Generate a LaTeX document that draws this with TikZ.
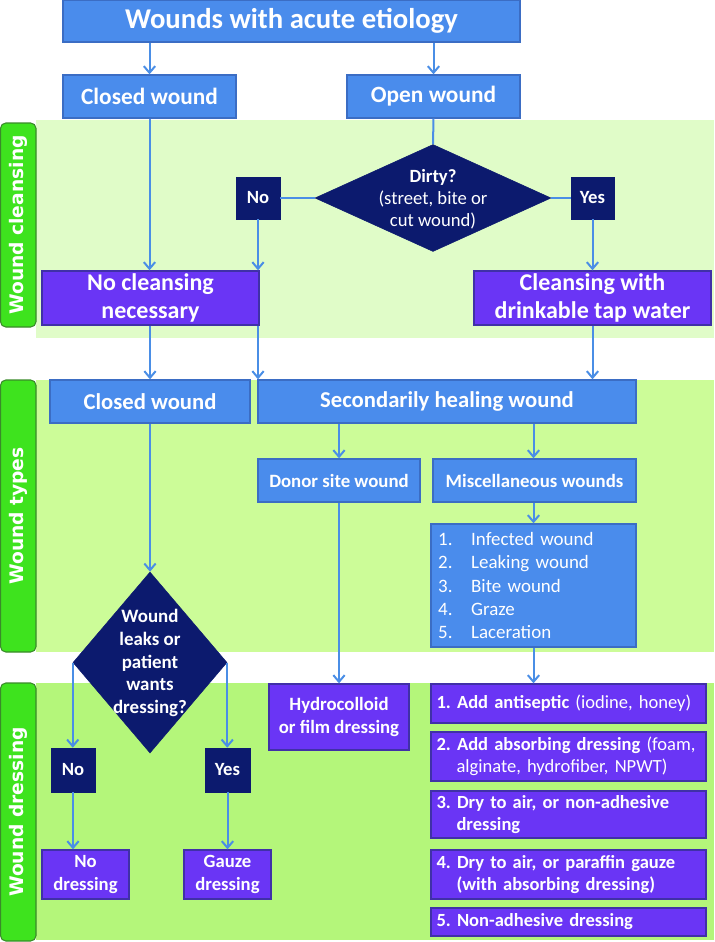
\documentclass[tikz,border=0pt]{standalone}
\usepackage{fontspec}
\setmainfont{Carlito}
\newfontfamily\tabfont{DejaVu Sans}
\usetikzlibrary{shapes.geometric,arrows.meta}
\frenchspacing
\definecolor{boxblue}{HTML}{4A8CEC}
\definecolor{boxblueline}{HTML}{3B6DC4}
\definecolor{boxpurple}{HTML}{6A35F5}
\definecolor{boxpurpleline}{HTML}{4030A8}
\definecolor{navy}{HTML}{0C1A6E}
\definecolor{arrowblue}{HTML}{4A8EE6}
\definecolor{bandA}{HTML}{E0FCC8}
\definecolor{bandB}{HTML}{CCFC98}
\definecolor{bandC}{HTML}{B4F67A}
\definecolor{tabgreen}{HTML}{3EE31E}
\definecolor{tabline}{HTML}{3A8A2A}
\tikzset{
  corners/.style args={#1/#2/#3/#4}{anchor=center, at={({(#1+#3)/2},{(#2+#4)/2})},
     minimum width={(#3-#1)*0.75pt}, minimum height={(#4-#2)*0.75pt}},
  bbox/.style={draw=boxblueline, fill=boxblue, line width=1pt, inner sep=0pt, text=white, align=center},
  pbox/.style={draw=boxpurpleline, fill=boxpurple, line width=1pt, inner sep=0pt, text=white, align=center},
  dbox/.style={draw=boxpurpleline, fill=boxpurple, line width=1pt, inner sep=0pt, text=white,
     text width=198pt, align=left, font=\bfseries\fontsize{13.9}{16.5}\selectfont},
  nbox/.style={fill=navy, draw=navy, inner sep=0pt, text=white, font=\bfseries\fontsize{14}{16}\selectfont},
  dia/.style={diamond, fill=navy, draw=navy, inner sep=0pt},
  diatext/.style={text=white, align=center, inner sep=0pt},
  conn/.style={draw=arrowblue, line width=1.5pt},
  arr/.style={conn, -{Straight Barb[length=5pt,width=8.5pt,line width=1.5pt]}},
  tabbox/.style={fill=tabgreen, draw=tabline, line width=0.8pt, rounded corners=4pt},
  tabtext/.style={text=white, font=\tabfont\bfseries\fontsize{14}{16}\selectfont, rotate=90},
}
\begin{document}
\begin{tikzpicture}[x=0.75pt,y=-0.75pt]
\useasboundingbox (0,0) rectangle (714,942);
% bands
\fill[bandA] (36,120) rectangle (714,338);
\fill[bandB] (36,380) rectangle (714,652);
\fill[bandC] (36,683) rectangle (714,940);
\draw[tabbox] (0.5,123) rectangle (36,327);
\draw[tabbox] (0.5,380) rectangle (36,652);
\draw[tabbox] (0.5,683) rectangle (36,941);
\node[tabtext] (lab1) at (18,225) {Wound cleansing};
\node[tabtext] (lab2) at (18,516) {Wound types};
\node[tabtext] (lab3) at (18,812) {Wound dressing};

% top level
\node[bbox, corners=63/0.5/520/42, font=\bfseries\fontsize{21.5}{26}\selectfont] (top) {Wounds with acute etiology};
\node[bbox, corners=63/75/236/118, font=\bfseries\fontsize{17.5}{21}\selectfont] (closedA) {Closed wound};
\node[bbox, corners=347/75/520/118, font=\bfseries\fontsize{17.5}{21}\selectfont] (openA) {Open wound};

% cleansing
\node[dia, minimum width=177pt, minimum height=80.25pt] (diaA) at (433,198) {};
\node[diatext, font=\fontsize{14}{16.5}\selectfont] (diaAt) at (433,199) {\textbf{Dirty?}\\(street, bite or\\cut wound)};
\node[nbox, corners=236/177/280/219] (noA) {No};
\node[nbox, corners=571/177/614/219] (yesA) {Yes};
\node[pbox, corners=42/271/259/325, font=\bfseries\fontsize{18}{21}\selectfont] (nocl) {No cleansing\\necessary};
\node[pbox, corners=474/271/711/325, font=\bfseries\fontsize{18}{21}\selectfont] (cleanse) {Cleansing with\\drinkable tap water};

% wound types
\node[bbox, corners=50/380/250/423, font=\bfseries\fontsize{17}{20}\selectfont] (closedB) {Closed wound};
\node[bbox, corners=258/380/636/423, font=\bfseries\fontsize{17}{20}\selectfont] (sec) {Secondarily healing wound};
\node[bbox, corners=258/459/420/502, font=\bfseries\fontsize{14.1}{17}\selectfont] (donor) {Donor site wound};
\node[bbox, corners=433/459/636/502, font=\bfseries\fontsize{14.1}{17}\selectfont] (misc) {Miscellaneous wounds};
\node[bbox, corners=431/524/636/647, align=left, text width=143pt, font=\fontsize{14.2}{17.3}\selectfont] (list) {%
\makebox[24.75pt][l]{1.}Infected wound\\
\makebox[24.75pt][l]{2.}Leaking wound\\
\makebox[24.75pt][l]{3.}Bite wound\\
\makebox[24.75pt][l]{4.}Graze\\
\makebox[24.75pt][l]{5.}Laceration};

% dressing decision
\node[dia, minimum width=115.5pt, minimum height=135.75pt] (diaB) at (150,662.5) {};
\node[diatext, font=\bfseries\fontsize{14.2}{16.9}\selectfont] (diaBt) at (150,663) {Wound\\leaks or\\patient\\wants\\dressing?};
\node[nbox, corners=51/748/95/792] (noB) {No};
\node[nbox, corners=205/748/250/792] (yesB) {Yes};
\node[pbox, corners=42/850/129/899, font=\bfseries\fontsize{14}{17.3}\selectfont] (nodress) {No\\dressing};
\node[pbox, corners=184/850/271/899, font=\bfseries\fontsize{14}{17.3}\selectfont] (gauze) {Gauze\\dressing};
\node[pbox, corners=269/684/409/750, font=\bfseries\fontsize{14.1}{17.3}\selectfont] (hydro) {Hydrocolloid\\or film dressing};

\node[dbox, corners=431/684/706/723] (dA) {1. Add antiseptic {\mdseries(iodine, honey)}};
\node[dbox, corners=431/732/706/781] (dB) {2. Add absorbing dressing {\mdseries(foam,}\\\hspace*{15pt}{\mdseries alginate, hydrofiber, NPWT)}};
\node[dbox, corners=431/791/706/838] (dC) {3. Dry to air, or non-adhesive\\\hspace*{15pt}dressing};
\node[dbox, corners=431/850/706/899] (dD) {4. Dry to air, or paraffin gauze\\\hspace*{15pt}(with absorbing dressing)};
\node[dbox, corners=431/908/706/936] (dE) {5. Non-adhesive dressing};

% connectors
\draw[arr] (top.south -| closedA.north) -- (closedA.north);
\draw[arr] (top.south -| openA.north) -- (openA.north);
\draw[conn] (openA.south) -- (diaA.north);
\draw[conn] (diaA.west) -- (noA.east);
\draw[conn] (diaA.east) -- (yesA.west);
\draw[arr] (closedA.south) -- (closedA.south |- nocl.north);
\draw[arr] (noA.south) -- (noA.south |- nocl.north);
\draw[arr] (yesA.south) -- (yesA.south |- cleanse.north);
\draw[arr] (nocl.south -| closedB.north) -- (closedB.north);
\draw[arr] (nocl.south -| noA.south) -- (sec.north -| noA.south);
\draw[arr] (cleanse.south) -- (cleanse.south |- sec.north);
\draw[arr] (sec.south -| donor.north) -- (donor.north);
\draw[arr] (sec.south -| list.north) -- (list.north |- misc.north);
\draw[arr] (misc.south -| list.north) -- (list.north);
\draw[arr] (closedB.south) -- (diaB.north);
\draw[arr] (diaB.west) -- (diaB.west |- noB.north);
\draw[arr] (diaB.east) -- (diaB.east |- yesB.north);
\draw[arr] (noB.south) -- (noB.south |- nodress.north);
\draw[arr] (yesB.south) -- (yesB.south |- gauze.north);
\draw[arr] (donor.south) -- (donor.south |- hydro.north);
\draw[arr] (list.south) -- (list.south |- dA.north);
\end{tikzpicture}
\end{document}
